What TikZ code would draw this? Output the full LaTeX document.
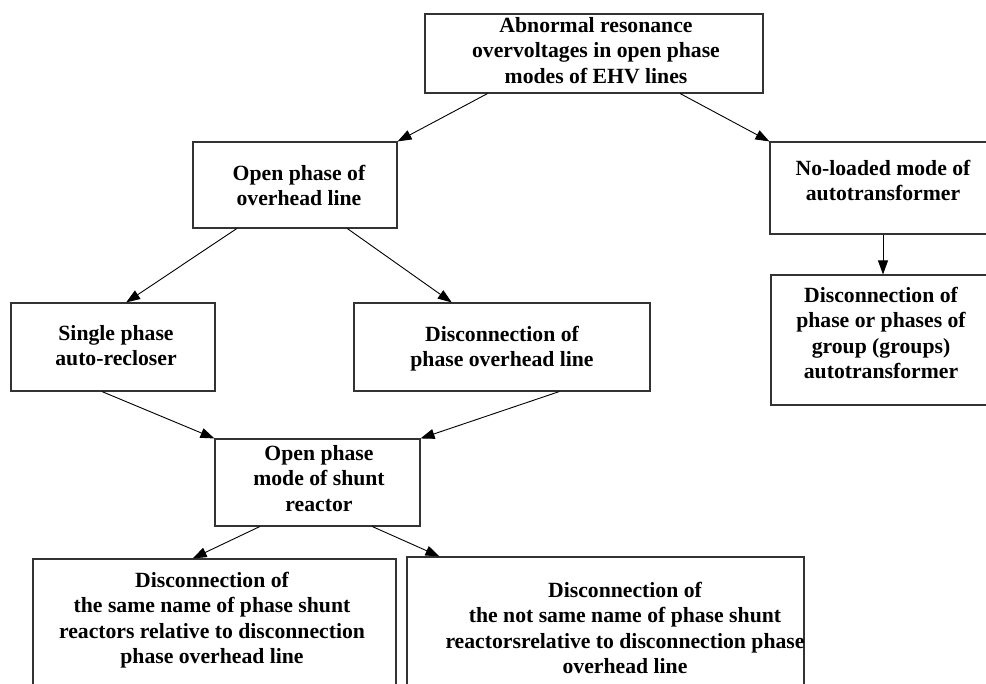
\documentclass[tikz,border=0pt]{standalone}
\usepackage{fontspec}
\setmainfont{Liberation Serif}
\usetikzlibrary{arrows.meta,calc}
\tikzset{
  box/.style={draw=black!80, line width=1.1pt, inner sep=0pt},
  txt/.style={inner sep=0pt, anchor=north, align=center,
    font=\fontsize{21.7}{25.5}\selectfont\bfseries},
  arr/.style={-{Triangle[length=14pt,width=10pt]}, line width=0.9pt, black},
}
\begin{document}
\begin{tikzpicture}[x=1pt,y=-1pt]
\useasboundingbox[fill=white] (0,0) rectangle (986,684);
\clip (0,0) rectangle (986,684);
% boxes
\node[box, minimum width=338, minimum height=79]  (a) at (594,53.5) {};
\node[box, minimum width=204, minimum height=86]  (b) at (295,185) {};
\node[box, minimum width=226, minimum height=92]  (c) at (883,188) {};
\node[box, minimum width=224, minimum height=130] (d) at (883,340) {};
\node[box, minimum width=204, minimum height=88]  (e) at (113,347) {};
\node[box, minimum width=296, minimum height=88]  (f) at (502,347) {};
\node[box, minimum width=205, minimum height=87]  (g) at (317.5,482.5) {};
\node[box, minimum width=363, minimum height=150] (h) at (214.5,634) {};
\node[box, minimum width=397, minimum height=150] (i) at (605.5,632) {};
% texts
\node[txt] (at) at (596,17) {Abnormal resonance\\overvoltages in open phase\\modes of EHV lines};
\node[txt] (bt) at (299,165) {Open phase of\\overhead line};
\node[txt] (ct) at (883,160) {No-loaded mode of\\autotransformer};
\node[txt] (dt) at (881,287) {Disconnection of\\phase or phases of\\group (groups)\\autotransformer};
\node[txt] (et) at (116,325) {Single phase\\auto-recloser};
\node[txt] (ft) at (502,326) {Disconnection of\\phase overhead line};
\node[txt] (gt) at (319,445) {Open phase\\mode of shunt\\reactor};
\node[txt] (ht) at (212,572) {Disconnection of\\the same name of phase shunt\\reactors relative to disconnection\\phase overhead line};
\node[txt] (it) at (625,582) {Disconnection of\\the not same name of phase shunt\\reactorsrelative to disconnection phase\\overhead line};
% connectors
\draw[arr] ($(a.south west)!0.186!(a.south east)$) -- (b.north east);
\draw[arr] ($(a.south west)!0.754!(a.south east)$) -- (c.north west);
\draw[arr] ($(b.south west)!0.216!(b.south east)$) -- ($(e.north west)!0.564!(e.north east)$);
\draw[arr] ($(b.south west)!0.755!(b.south east)$) -- ($(f.north west)!0.331!(f.north east)$);
\draw[arr] (c.south) -- (d.north);
\draw[arr] ($(e.south west)!0.446!(e.south east)$) -- (g.north west);
\draw[arr] ($(f.south west)!0.693!(f.south east)$) -- (g.north east);
\draw[arr] ($(g.south west)!0.22!(g.south east)$) -- ($(h.north west)!0.44!(h.north east)$);
\draw[arr] ($(g.south west)!0.766!(g.south east)$) -- ($(i.north west)!0.083!(i.north east)$);
\end{tikzpicture}
\end{document}
